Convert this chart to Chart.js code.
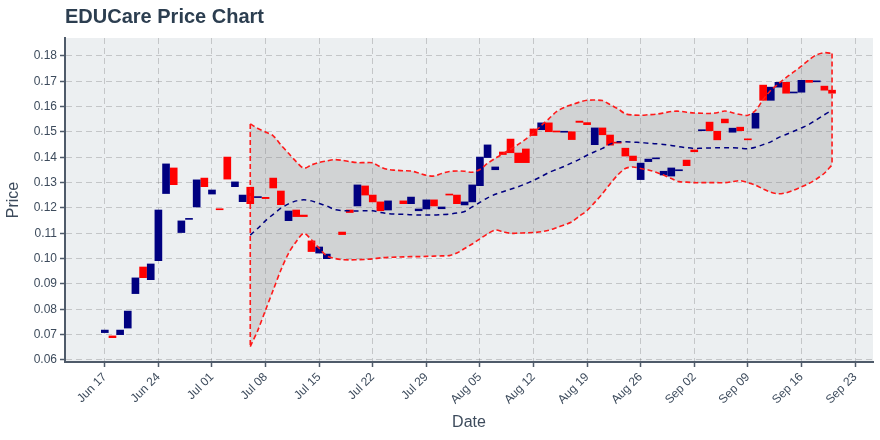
<!DOCTYPE html>
<html>
<head>
<meta charset="utf-8">
<script src="https://cdn.jsdelivr.net/npm/chart.js@4.4.1/dist/chart.umd.min.js"></script>
<style>
  body { margin: 0; background: #fff; }
  #wrap { position: relative; width: 880px; height: 440px; }
  #title { position: absolute; left: 65px; top: 6px; font: bold 20px 'Liberation Sans', Arial, sans-serif; color: #2c3e50; line-height: 20px; }
</style>
</head>
<body>
<div id="wrap">
  <canvas id="myChart" width="880" height="440"></canvas>
  <div id="title">EDUCare Price Chart</div>
</div>
<script>
// days counted from Jun 17 (no candle on Jul 17 / Jul 25)
const candleDays = [0,1,2,3,4,5,6,7,8,9,10,11,12,13,14,15,16,17,18,19,20,21,22,23,24,25,26,27,28,29,
  31,32,33,34,35,36,37,39,40,41,42,43,44,45,46,47,48,49,50,51,52,53,54,55,56,57,58,59,60,61,62,63,64,65,
  66,67,68,69,70,71,72,73,74,75,76,77,78,79,80,81,82,83,84,85,86,87,88,89,90,91,92,93,94,95];
const opens = [0.0708,0.0695,0.0700,0.0726,0.0862,0.0967,0.0917,0.0992,0.1257,0.1358,0.1103,0.1155,0.1204,0.1318,0.1255,0.1196,0.1401,0.1284,0.1225,0.1282,0.1241,0.1242,0.1318,0.1267,0.1150,0.1192,0.1172,0.1070,0.1022,0.1000,
  0.1105,0.1192,0.1208,0.1287,0.1251,0.1224,0.1192,0.1228,0.1217,0.1189,0.1196,0.1232,0.1197,0.1255,0.1251,0.1212,0.1224,0.1288,0.1399,0.1351,0.1421,0.1472,0.1417,0.1433,0.1512,0.1509,0.1536,0.1502,0.1499,0.1501,0.1543,0.1537,0.1450,0.1516,
  0.1488,0.1460,0.1436,0.1405,0.1312,0.1383,0.1394,0.1330,0.1326,0.1347,0.1389,0.1429,0.1505,0.1539,0.1503,0.1551,0.1499,0.1519,0.1472,0.1515,0.1685,0.1625,0.1677,0.1696,0.1654,0.1657,0.1704,0.1698,0.1681,0.1665];
const closes = [0.0718,0.0688,0.0718,0.0793,0.0924,0.0925,0.0979,0.1192,0.1374,0.1292,0.1149,0.1158,0.1311,0.1284,0.1271,0.1193,0.1314,0.1303,0.1251,0.1217,0.1243,0.1237,0.1279,0.1213,0.1188,0.1166,0.1166,0.1028,0.1046,0.1018,
  0.1095,0.1182,0.1291,0.1251,0.1224,0.1189,0.1228,0.1217,0.1243,0.1196,0.1232,0.1208,0.1204,0.1251,0.1217,0.1224,0.1291,0.1401,0.1449,0.1362,0.1411,0.1418,0.1379,0.1379,0.1486,0.1536,0.1501,0.1500,0.1501,0.1470,0.1538,0.1529,0.1516,0.1489,
  0.1448,0.1456,0.1405,0.1387,0.1377,0.1393,0.1397,0.1345,0.1358,0.1350,0.1367,0.1422,0.1507,0.1505,0.1469,0.1536,0.1515,0.1505,0.1469,0.1574,0.1625,0.1677,0.1696,0.1653,0.1657,0.1704,0.1696,0.1700,0.1665,0.1653];

// bollinger bands, one value per day from Jul 06 (day 19) to Sep 20 (day 95)
const bandStart = 19;
const upperBand = [0.1532,0.1514,0.1500,0.1485,0.1449,0.1416,0.1383,0.1357,0.1370,0.1380,0.1386,0.1391,0.1388,0.1383,0.1379,0.1379,0.1378,0.1362,0.1352,0.1349,
  0.1347,0.1346,0.1338,0.1329,0.1326,0.1336,0.1344,0.1346,0.1345,0.1341,0.1352,0.1376,0.1396,0.1414,0.1432,0.1451,0.1472,0.1496,0.1525,0.1552,
  0.1580,0.1597,0.1608,0.1618,0.1625,0.1626,0.1624,0.1608,0.1592,0.1572,0.1567,0.1566,0.1568,0.1570,0.1575,0.1581,0.1582,0.1578,0.1575,0.1574,
  0.1573,0.1576,0.1583,0.1576,0.1569,0.1566,0.1585,0.1628,0.1665,0.1690,0.1715,0.1737,0.1760,0.1785,0.1805,0.1813,0.1810];
const middleBand = [0.1093,0.1120,0.1150,0.1175,0.1199,0.1216,0.1228,0.1232,0.1228,0.1218,0.1208,0.1194,0.1190,0.1189,0.1188,0.1189,0.1189,0.1182,0.1178,0.1176,
  0.1175,0.1173,0.1172,0.1172,0.1172,0.1174,0.1176,0.1180,0.1186,0.1204,0.1222,0.1240,0.1254,0.1264,0.1274,0.1284,0.1296,0.1309,0.1324,0.1340,
  0.1352,0.1364,0.1378,0.1392,0.1408,0.1422,0.1435,0.1452,0.1461,0.1461,0.1460,0.1458,0.1456,0.1454,0.1451,0.1447,0.1442,0.1438,0.1435,0.1436,
  0.1437,0.1438,0.1438,0.1438,0.1436,0.1434,0.1440,0.1450,0.1461,0.1478,0.1490,0.1503,0.1516,0.1530,0.1549,0.1568,0.1586];
const lowerBand = [0.0653,0.0718,0.0797,0.0876,0.0955,0.1021,0.1067,0.1100,0.1074,0.1041,0.1011,0.1001,0.0996,0.0995,0.0996,0.0997,0.0999,0.1003,0.1005,0.1006,
  0.1007,0.1008,0.1008,0.1009,0.1010,0.1011,0.1012,0.1022,0.1040,0.1058,0.1078,0.1098,0.1113,0.1106,0.1100,0.1101,0.1102,0.1103,0.1106,0.1112,
  0.1122,0.1133,0.1145,0.1168,0.1190,0.1222,0.1256,0.1295,0.1330,0.1356,0.1362,0.1356,0.1350,0.1341,0.1330,0.1316,0.1304,0.1302,0.1300,0.1300,
  0.1300,0.1300,0.1300,0.1304,0.1308,0.1300,0.1290,0.1275,0.1262,0.1256,0.1260,0.1270,0.1283,0.1297,0.1315,0.1337,0.1370];

const tickDays = [0,7,14,21,28,35,42,49,56,63,70,77,84,91,98];
const tickLabels = ['Jun 17','Jun 24','Jul 01','Jul 08','Jul 15','Jul 22','Jul 29','Aug 05','Aug 12','Aug 19','Aug 26','Sep 02','Sep 09','Sep 16','Sep 23'];
const priceTicks = [0.06,0.07,0.08,0.09,0.10,0.11,0.12,0.13,0.14,0.15,0.16,0.17,0.18];

const upData = [], downData = [];
candleDays.forEach((d, i) => {
  const bar = {x: d, y: [opens[i], closes[i]]};
  if (closes[i] >= opens[i]) upData.push(bar); else downData.push(bar);
});
const band = arr => arr.map((v, i) => ({x: bandStart + i, y: v}));
const lastDay = bandStart + upperBand.length - 1;
const startEdge = [{x: bandStart, y: upperBand[0]}, {x: bandStart, y: lowerBand[0]}];
const endEdge = [{x: lastDay, y: upperBand[upperBand.length - 1]}, {x: lastDay, y: lowerBand[lowerBand.length - 1]}];

const textColor = '#3d4b5c';
const axisColor = '#4f5b6a';
Chart.defaults.font.family = "'Liberation Sans', Arial, sans-serif";

const plotBg = {
  id: 'plotBg',
  beforeDraw(chart) {
    const a = chart.chartArea;
    chart.ctx.save();
    chart.ctx.fillStyle = '#eceff1';
    chart.ctx.fillRect(a.left, a.top, a.right - a.left, a.bottom - a.top);
    chart.ctx.restore();
  }
};

const redLine = {type: 'line', borderColor: '#ff1a1a', borderWidth: 1.6, borderDash: [5, 3], pointRadius: 0, order: 0};

const ctx = document.getElementById('myChart');
const chart = new Chart(ctx, {
  type: 'bar',
  data: {
    datasets: [
      {...redLine, data: band(upperBand), tension: 0.3, fill: '+1', backgroundColor: 'rgba(128,128,128,0.25)'},
      {...redLine, data: band(lowerBand), tension: 0.3, fill: false},
      {type: 'line', data: band(middleBand), borderColor: '#000080', borderWidth: 1.5, borderDash: [5, 4], pointRadius: 0, tension: 0.3, fill: false, order: 0},
      {...redLine, data: startEdge, fill: false},
      {...redLine, data: endEdge, fill: false},
      {data: upData, backgroundColor: '#000080', order: 1},
      {data: downData, backgroundColor: '#ff0000', order: 1}
    ]
  },
  options: {
    responsive: false,
    animation: false,
    layout: {padding: {top: 38, right: 7, left: 0, bottom: 0}},
    datasets: {bar: {barThickness: 7, grouped: false, minBarLength: 1, borderWidth: 0}},
    plugins: {
      legend: {display: false},
      tooltip: {enabled: false},
      filler: {drawTime: 'beforeDatasetsDraw'}
    },
    scales: {
      x: {
        type: 'linear',
        min: -5.2,
        max: 100.35,
        offset: false,
        afterBuildTicks: axis => { axis.ticks = tickDays.map(v => ({value: v})); },
        afterFit: axis => { axis.height = 78; },
        ticks: {
          callback: (v, i) => tickLabels[i],
          autoSkip: false, maxRotation: 45, minRotation: 45, padding: 3,
          color: textColor, font: {size: 12}
        },
        grid: {offset: false, color: 'rgba(0,0,0,0.17)', lineWidth: 1, tickColor: axisColor, tickLength: 5, tickWidth: 1.5},
        border: {display: true, color: axisColor, width: 2, dash: [6, 4]},
        title: {display: true, text: 'Date', color: textColor, font: {size: 16}, padding: {top: 0, bottom: 8}}
      },
      y: {
        min: 0.0592,
        max: 0.1871,
        afterBuildTicks: axis => { axis.ticks = priceTicks.map(v => ({value: v})); },
        afterFit: axis => { axis.width = 65; },
        ticks: {callback: v => v.toFixed(2), color: textColor, font: {size: 12}, padding: 3},
        grid: {color: 'rgba(0,0,0,0.17)', lineWidth: 1, tickColor: axisColor, tickLength: 5, tickWidth: 1.5},
        border: {display: true, color: axisColor, width: 2, dash: [6, 4]},
        title: {display: true, text: 'Price', color: textColor, font: {size: 16}, padding: {top: 4, bottom: 0}}
      }
    }
  },
  plugins: [plotBg]
});
</script>
</body>
</html>
